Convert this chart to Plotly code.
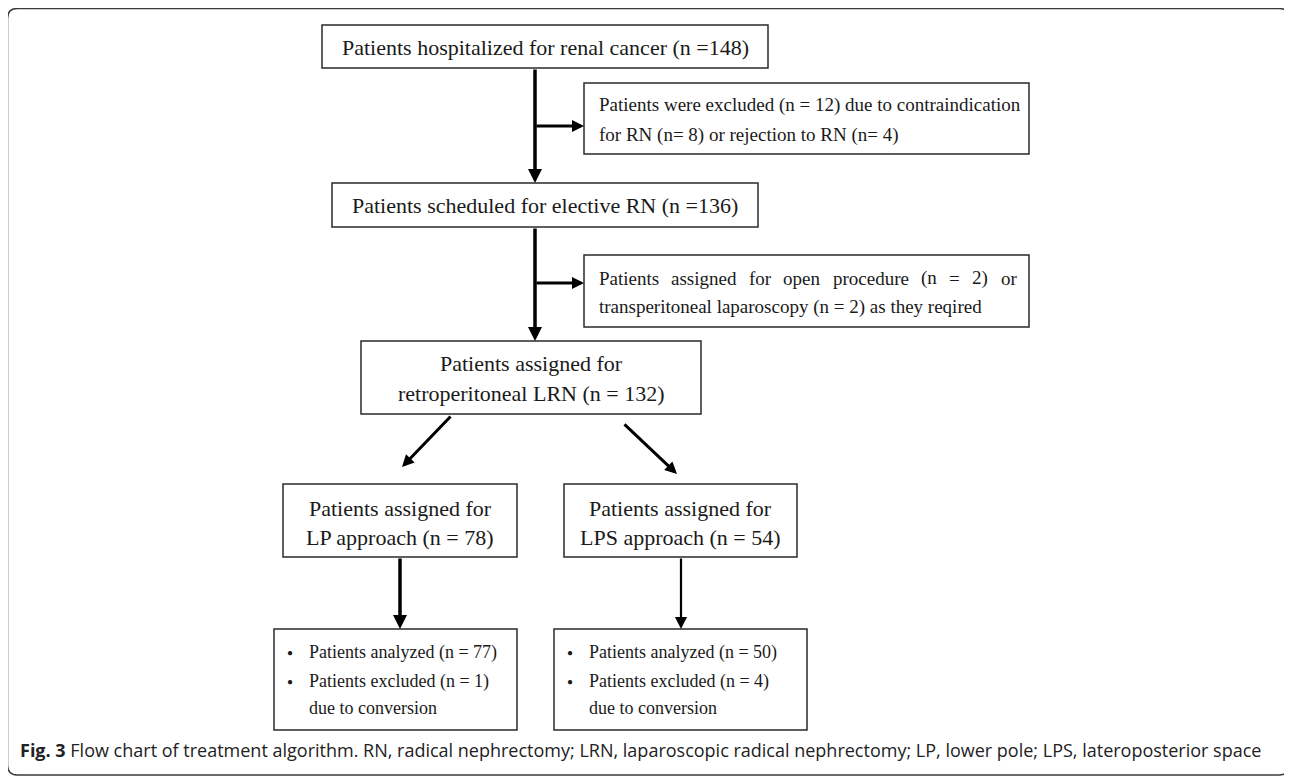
import plotly.graph_objects as go

# ---------------- data ----------------
n_hospitalized = 148
n_excluded = 12
n_contra = 8
n_reject = 4
n_scheduled = 136
n_open = 2
n_transperitoneal = 2
n_retro = 132
n_lp = 78
n_lps = 54
n_lp_analyzed = 77
n_lp_excluded = 1
n_lps_analyzed = 50
n_lps_excluded = 4

box1_text = [f"Patients hospitalized for renal cancer (n ={n_hospitalized})"]
box2_text = [f"Patients were excluded (n = {n_excluded}) due to contraindication",
             f"for RN (n= {n_contra}) or rejection to RN (n= {n_reject})"]
box3_text = [f"Patients scheduled for elective RN (n ={n_scheduled})"]
box4_line1_words = ["Patients", "assigned", "for", "open", "procedure", "(n", "=", f"{n_open})", "or"]
box4_line2 = f"transperitoneal laparoscopy (n = {n_transperitoneal}) as they reqired"
box5_text = ["Patients assigned for", f"retroperitoneal LRN (n = {n_retro})"]
box6_text = ["Patients assigned for", f"LP approach (n = {n_lp})"]
box7_text = ["Patients assigned for", f"LPS approach (n = {n_lps})"]
box8_text = [f"Patients analyzed (n = {n_lp_analyzed})", f"Patients excluded (n = {n_lp_excluded})", "due to conversion"]
box9_text = [f"Patients analyzed (n = {n_lps_analyzed})", f"Patients excluded (n = {n_lps_excluded})", "due to conversion"]

caption_bold = "Fig. 3"
caption_text = (" Flow chart of treatment algorithm. RN, radical nephrectomy; LRN, laparoscopic "
                "radical nephrectomy; LP, lower pole; LPS, lateroposterior space")

# ---------------- layout geometry ----------------
W, H = 1292, 778
OFF = 8  # default page body margin
SERIF = "Liberation Serif"
TXT = "#1a1a1a"
BORDER = "#2a2a2a"

boxes = [  # x0, y0, x1, y1 (page pixels)
    (322, 25, 768, 68),
    (584, 83, 1029, 154),
    (332, 183, 758, 227),
    (584, 255, 1029, 327),
    (361, 341, 701, 414),
    (283, 484, 517, 557),
    (564, 484, 797, 557),
    (274, 629, 517, 730),
    (554, 629, 807, 730),
]

fig = go.Figure()
fig.add_trace(go.Scatter(x=[OFF, W], y=[OFF, H], mode="markers",
                         marker=dict(opacity=0), hoverinfo="skip", showlegend=False))

shapes = []
r = 10
x0f, y0f, x1f, y1f = 7.5, 8.5, 1289, 775
path = (f"M {x0f+r},{y0f} L {x1f-r},{y0f} Q {x1f},{y0f} {x1f},{y0f+r} "
        f"L {x1f},{y1f-r} Q {x1f},{y1f} {x1f-r},{y1f} L {x0f+r},{y1f} "
        f"Q {x0f},{y1f} {x0f},{y1f-r} L {x0f},{y0f+r} Q {x0f},{y0f} {x0f+r},{y0f} Z")
shapes.append(dict(type="path", path=path, xref="x", yref="y",
                   line=dict(color="#3a3a3a", width=1.5)))
for (a, b, c, d) in boxes:
    shapes.append(dict(type="rect", x0=a, y0=b, x1=c, y1=d, xref="x", yref="y",
                       line=dict(color=BORDER, width=1.5), fillcolor="rgba(0,0,0,0)"))

annotations = []

def txt(x, y, s, size, anchor="center", family=SERIF, color=TXT):
    annotations.append(dict(x=x, y=y, xref="x", yref="y", text=s, showarrow=False,
                            xanchor=anchor, yanchor="middle",
                            font=dict(family=family, size=size, color=color)))

def arrow(x0, y0, x1, y1, w=3, size=1.0):
    annotations.append(dict(x=x1, y=y1, ax=x0, ay=y0, xref="x", yref="y",
                            axref="x", ayref="y", text="", showarrow=True,
                            arrowhead=2, arrowsize=size, arrowwidth=w,
                            arrowcolor="#000000", standoff=0, startstandoff=0))

# box texts
txt(545, 47, box1_text[0], 22)
txt(597, 105, box2_text[0], 19, "left")
txt(597, 135, box2_text[1], 19, "left")
txt(545, 205, box3_text[0], 22)
# justified first line of box 4 (word start positions)
word_x = [597, 669, 747, 781, 831, 919, 947, 970, 999]
for wx, wd in zip(word_x, box4_line1_words):
    txt(wx, 278, wd, 19, "left")
txt(597, 307, box4_line2, 19, "left")
txt(531, 363, box5_text[0], 22)
txt(531, 393, box5_text[1], 22)
txt(400, 508, box6_text[0], 22)
txt(400, 537, box6_text[1], 22)
txt(680.5, 508, box7_text[0], 22)
txt(680.5, 537, box7_text[1], 22)
for (bx, lines) in ((274, box8_text), (554, box9_text)):
    ys = [652, 681, 708]
    for i, (yy, s) in enumerate(zip(ys, lines)):
        if i < 2:
            txt(bx + 16, yy, "●", 10)
        txt(bx + 33, yy, s, 18, "left")

# arrows
arrow(535, 68, 535, 183, 3.5, 0.8)
arrow(535, 126, 584, 126, 3, 0.8)
arrow(535, 227, 535, 341, 3.5, 0.8)
arrow(535, 283, 584, 283, 3, 0.8)
arrow(452, 415, 402, 467, 3, 0.8)
arrow(623, 423, 677, 474, 3, 0.8)
arrow(400, 557, 400, 629, 3.5, 0.8)
arrow(681, 557, 681, 629, 2.2, 1.1)

# caption
annotations.append(dict(x=18, y=750, xref="x", yref="y", showarrow=False,
                        xanchor="left", yanchor="middle",
                        text=f"<b>{caption_bold}</b>{caption_text}",
                        font=dict(family="Open Sans", size=18, color="#222222")))

fig.update_layout(
    width=W - OFF, height=H - OFF,
    margin=dict(l=0, r=0, t=0, b=0),
    paper_bgcolor="white", plot_bgcolor="white",
    xaxis=dict(range=[OFF, W], visible=False, fixedrange=True),
    yaxis=dict(range=[H, OFF], visible=False, fixedrange=True),
    shapes=shapes, annotations=annotations, showlegend=False,
)

fig.write_html("out.html")
